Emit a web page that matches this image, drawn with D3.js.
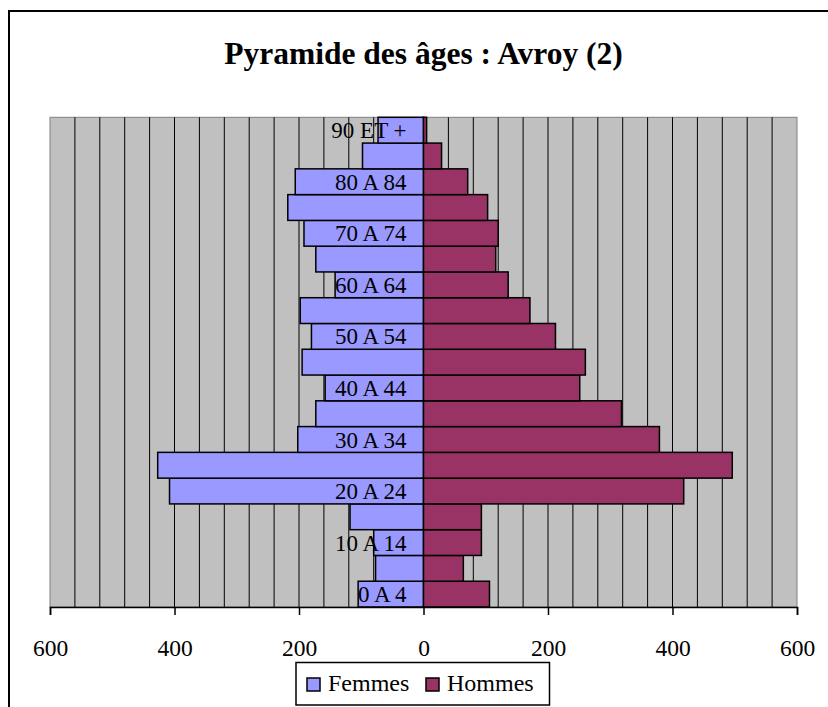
<!DOCTYPE html>
<html>
<head>
<meta charset="utf-8">
<script src="https://cdn.jsdelivr.net/npm/d3@7.9.0/dist/d3.min.js"></script>
<style>
  body { margin: 0; background: #fff; }
  svg text { font-family: "Liberation Serif", "Times New Roman", serif; fill: #000; }
</style>
</head>
<body>
<svg id="chart" width="828" height="707"></svg>
<script>
// age groups, youngest first
const ageGroups = ['0 A 4', '5 A 9', '10 A 14', '15 A 19', '20 A 24', '25 A 29', '30 A 34',
  '35 A 39', '40 A 44', '45 A 49', '50 A 54', '55 A 59', '60 A 64', '65 A 69',
  '70 A 74', '75 A 79', '80 A 84', '85 A 89', '90 ET +'];
const femmes = [105, 77, 80, 118, 408, 427, 202, 173, 158, 195, 180, 198, 142, 173, 192, 218, 206, 98, 73];
const hommes = [106, 64, 93, 93, 418, 496, 379, 318, 251, 260, 212, 171, 136, 116, 120, 103, 71, 29, 5];
const tickValues = [-600, -400, -200, 0, 200, 400, 600];

const svg = d3.select('#chart');

// outer chart border (runs off the right/bottom of the picture)
svg.append('rect')
  .attr('x', 9).attr('y', 11)
  .attr('width', 840).attr('height', 720)
  .attr('fill', 'none').attr('stroke', '#000').attr('stroke-width', 2);

svg.append('text')
  .attr('x', 423.5).attr('y', 64)
  .attr('text-anchor', 'middle')
  .attr('font-size', '31.5px').attr('font-weight', 'bold')
  .text('Pyramide des âges : Avroy (2)');

const plot = { left: 50, right: 797, top: 117.3, bottom: 607 };

const x = d3.scaleLinear().domain([-600, 600]).range([plot.left, plot.right]);
const y = d3.scaleBand()
  .domain(ageGroups.slice().reverse())
  .range([plot.top, plot.bottom])
  .padding(0);

// plot background
svg.append('rect')
  .attr('x', plot.left).attr('y', plot.top)
  .attr('width', plot.right - plot.left).attr('height', plot.bottom - plot.top)
  .attr('fill', '#c0c0c0').attr('stroke', '#808080').attr('stroke-width', 1);

// vertical gridlines every 40
const gridVals = d3.range(-560, 600, 40);
svg.append('g').selectAll('line')
  .data(gridVals)
  .join('line')
  .attr('x1', d => x(d)).attr('x2', d => x(d))
  .attr('y1', plot.top).attr('y2', plot.bottom)
  .attr('stroke', '#000').attr('stroke-width', 1);

const rows = ageGroups.map((g, i) => ({ group: g, f: femmes[i], h: hommes[i], i }));

svg.append('g').selectAll('rect')
  .data(rows)
  .join('rect')
  .attr('x', d => x(-d.f))
  .attr('y', d => y(d.group))
  .attr('width', d => x(0) - x(-d.f))
  .attr('height', y.bandwidth())
  .attr('fill', '#9999ff')
  .attr('stroke', '#000').attr('stroke-width', 1.5);

svg.append('g').selectAll('rect')
  .data(rows)
  .join('rect')
  .attr('x', x(0))
  .attr('y', d => y(d.group))
  .attr('width', d => x(d.h) - x(0))
  .attr('height', y.bandwidth())
  .attr('fill', '#993366')
  .attr('stroke', '#000').attr('stroke-width', 1.5);

// category labels, every other one
svg.append('g').selectAll('text')
  .data(rows.filter(d => d.i % 2 === 0))
  .join('text')
  .attr('x', x(0) - 17)
  .attr('y', d => y(d.group) + y.bandwidth() / 2)
  .attr('dy', '0.35em')
  .attr('text-anchor', 'end')
  .attr('font-size', '23px')
  .text(d => d.group);

// bottom axis
const axis = d3.axisBottom(x)
  .tickValues(tickValues)
  .tickSize(8)
  .tickPadding(24)
  .tickFormat(d => Math.abs(d));
const ax = svg.append('g')
  .attr('transform', `translate(0,${plot.bottom})`)
  .call(axis);
ax.select('.domain').attr('stroke', '#000').attr('stroke-width', 1.5);
ax.selectAll('.tick line').attr('stroke', '#000').attr('stroke-width', 1.5);
ax.selectAll('.tick text')
  .attr('font-family', '"Liberation Serif", serif')
  .attr('font-size', '23.5px')
  .attr('fill', '#000');

// legend
const legend = svg.append('g');
legend.append('rect')
  .attr('x', 296).attr('y', 662.5)
  .attr('width', 253.5).attr('height', 42.5)
  .attr('fill', '#fff').attr('stroke', '#000').attr('stroke-width', 1.5);
const legendItems = [
  { label: 'Femmes', color: '#9999ff', x: 307 },
  { label: 'Hommes', color: '#993366', x: 426 }
];
legendItems.forEach(item => {
  legend.append('rect')
    .attr('x', item.x).attr('y', 678)
    .attr('width', 13).attr('height', 13)
    .attr('fill', item.color)
    .attr('stroke', '#000').attr('stroke-width', 1.5);
  legend.append('text')
    .attr('x', item.x + 21).attr('y', 691)
    .attr('font-size', '24px')
    .text(item.label);
});
</script>
</body>
</html>
